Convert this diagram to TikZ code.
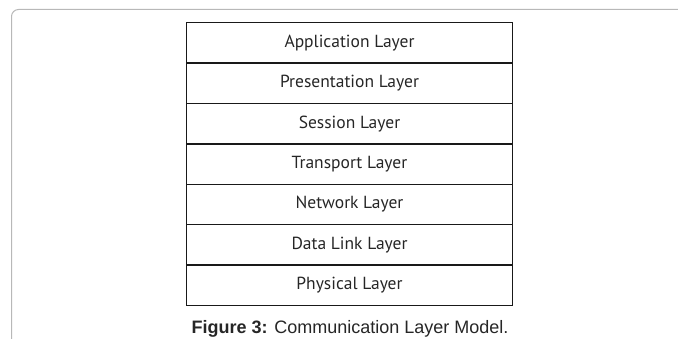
\documentclass[tikz,border=0pt]{standalone}
\usepackage{fontspec}
\setmainfont{PT Sans}
\newfontfamily\capfont{Liberation Sans}
\usetikzlibrary{positioning}
\tikzset{
	layer/.style={draw=black!90,line width=1.3pt,minimum width=326pt,minimum height=40.4pt,
		inner sep=0pt,outer sep=0pt,font=\fontsize{17.5pt}{19pt}\selectfont,text=black!85},
	frame/.style={draw=black!28,line width=1pt,rounded corners=7pt}
}
\begin{document}
\begin{tikzpicture}[x=1pt,y=1pt]
	\useasboundingbox (0,0) rectangle (678,338);
	\draw[frame] (11.5,-20) |- (700,328.5);
	% the seven layers, top to bottom
	\node[layer] (app) at (349.5,295.1) {Application Layer};
	\node[layer,below=0pt of app] (pres) {Presentation Layer};
	\node[layer,below=0pt of pres] (sess) {Session Layer};
	\node[layer,below=0pt of sess] (trans) {Transport Layer};
	\node[layer,below=0pt of trans] (net) {Network Layer};
	\node[layer,below=0pt of net] (link) {Data Link Layer};
	\node[layer,below=0pt of link] (phys) {Physical Layer};
	\node[anchor=base,font=\capfont\fontsize{18pt}{20pt}\selectfont,text=black!85] (cap) at (350,4.3)
		{\textbf{Figure 3:} Communication Layer Model.};
\end{tikzpicture}
\end{document}
